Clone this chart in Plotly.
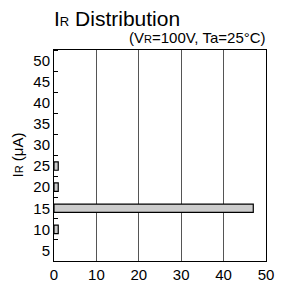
import plotly.graph_objects as go

# Data
ir_bins = [10, 15, 20, 25]          # I_R (µA)
quantity = [1, 47, 1, 1]            # pieces
x_ticks = [0, 10, 20, 30, 40, 50]
y_ticks = [5, 10, 15, 20, 25, 30, 35, 40, 45, 50]

FONT = "Liberation Sans, Arial, Helvetica, sans-serif"

fig = go.Figure()
fig.add_trace(go.Bar(
    y=ir_bins, x=quantity, orientation="h", width=2,
    marker=dict(color="#cccccc", line=dict(color="black", width=1.2)),
    showlegend=False,
))

fig.update_layout(
    width=279, height=284,
    margin=dict(l=46, r=21, t=42, b=31, autoexpand=False),
    paper_bgcolor="white", plot_bgcolor="white",
    font=dict(family=FONT, size=15, color="black"),
    xaxis=dict(
        range=[0, 50], tickvals=x_ticks, ticks="", showgrid=True,
        gridcolor="#555555", gridwidth=1, zeroline=False,
        showline=True, linecolor="black", linewidth=1, mirror=True,
        tickfont=dict(size=15), automargin=False,
    ),
    yaxis=dict(
        range=[2.5, 52.5], tickvals=y_ticks, ticks="", showgrid=False,
        zeroline=False, showline=True, linecolor="black", linewidth=1,
        mirror=True, tickfont=dict(size=15), automargin=False,
        minor=dict(tick0=2.5, dtick=5, ticks="inside", ticklen=4,
                   tickcolor="black", tickwidth=1, showgrid=False),
    ),
    annotations=[
        dict(text="I<span style='font-size:13px'>R</span> Distribution",
             xref="paper", yref="paper",
             x=0, y=1, xshift=-2, yshift=32, xanchor="left", yanchor="middle",
             showarrow=False, font=dict(size=21)),
        dict(text="(V<span style='font-size:11px'>R</span>=100V, Ta=25°C)",
             xref="paper", yref="paper",
             x=1, y=1, xshift=2, yshift=13, xanchor="right", yanchor="middle",
             showarrow=False, font=dict(size=15)),
        dict(text="I<span style='font-size:11px'>R</span> (μA)", xref="paper", yref="paper",
             x=0, y=0.5, xshift=-37, yshift=0, xanchor="center", yanchor="middle",
             textangle=-90, showarrow=False, font=dict(size=15)),
        dict(text="Quantity (pcs)", xref="paper", yref="paper",
             x=0.5, y=0, yshift=-27, xanchor="center", yanchor="top",
             showarrow=False, font=dict(size=15)),
    ],
)

fig.write_html("out.html")
